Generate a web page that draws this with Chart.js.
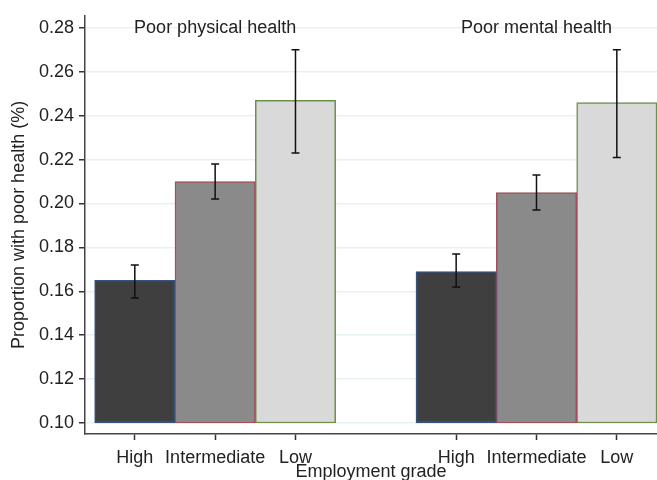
<!DOCTYPE html>
<html>
<head>
<meta charset="utf-8">
<script src="https://cdn.jsdelivr.net/npm/chart.js@4"></script>
<style>
  body { margin: 0; background: #fff; }
  #wrap { width: 657px; height: 480px; }
</style>
</head>
<body>
<div id="wrap"><canvas id="chart"></canvas></div>
<script>
// groups and grades
const groupTitles = ['Poor physical health', 'Poor mental health'];
const grades = ['High', 'Intermediate', 'Low'];
const xPos = [1, 2, 3, 5, 6, 7]; // slot of each bar, a gap between groups
const groupCenters = [2, 6];

// proportions
const physical = [0.165, 0.210, 0.247];
const physicalLo = [0.157, 0.202, 0.223];
const physicalHi = [0.172, 0.218, 0.270];
const mental = [0.169, 0.205, 0.246];
const mentalLo = [0.162, 0.197, 0.221];
const mentalHi = [0.177, 0.213, 0.270];

const yTicks = [0.10, 0.12, 0.14, 0.16, 0.18, 0.20, 0.22, 0.24, 0.26, 0.28];
const barBase = 0.10;

const fills = ['#3f3f3f', '#8a8a8a', '#d9d9d9'];
const borders = ['#34527a', '#a0505a', '#6f8f4c'];
const FONT = '"Liberation Sans", Arial, sans-serif';

const datasets = grades.map((g, i) => ({
  label: g,
  data: [
    { x: xPos[i], y: [barBase, physical[i]], lo: physicalLo[i], hi: physicalHi[i] },
    { x: xPos[i + 3], y: [barBase, mental[i]], lo: mentalLo[i], hi: mentalHi[i] }
  ],
  backgroundColor: fills[i],
  borderColor: borders[i],
  borderWidth: 1.5,
  borderSkipped: false,
  barPercentage: 1,
  categoryPercentage: 1
}));

// error bars with caps
const errorBars = {
  id: 'errorBars',
  afterDatasetsDraw(chart) {
    const { ctx, scales: { x, y } } = chart;
    ctx.save();
    ctx.strokeStyle = '#111';
    ctx.lineWidth = 1.5;
    chart.data.datasets.forEach(ds => {
      ds.data.forEach(d => {
        const px = x.getPixelForValue(d.x);
        const top = y.getPixelForValue(d.hi);
        const bot = y.getPixelForValue(d.lo);
        ctx.beginPath();
        ctx.moveTo(px, top); ctx.lineTo(px, bot);
        ctx.moveTo(px - 4, top); ctx.lineTo(px + 4, top);
        ctx.moveTo(px - 4, bot); ctx.lineTo(px + 4, bot);
        ctx.stroke();
      });
    });
    ctx.restore();
  }
};

// group headings inside the plot
const groupLabels = {
  id: 'groupLabels',
  afterDatasetsDraw(chart) {
    const { ctx, scales: { x, y } } = chart;
    ctx.save();
    ctx.font = '18px ' + FONT;
    ctx.fillStyle = '#222';
    ctx.textAlign = 'center';
    ctx.textBaseline = 'middle';
    groupTitles.forEach((t, i) => {
      ctx.fillText(t, x.getPixelForValue(groupCenters[i]), y.getPixelForValue(0.28));
    });
    ctx.restore();
  }
};

new Chart(document.getElementById('chart'), {
  type: 'bar',
  data: { datasets },
  options: {
    responsive: true,
    maintainAspectRatio: false,
    animation: false,
    grouped: false,
    layout: { padding: { top: 14, right: 0, left: 0, bottom: 0 } },
    plugins: { legend: { display: false }, tooltip: { enabled: false } },
    scales: {
      x: {
        type: 'linear',
        offset: false,
        min: 0.38,
        max: 7.5,
        afterBuildTicks(scale) { scale.ticks = xPos.map(v => ({ value: v })); },
        afterFit(scale) { scale.height = 46; },
        ticks: {
          autoSkip: false,
          maxRotation: 0,
          padding: 7,
          color: '#222',
          font: { family: FONT, size: 18 },
          callback: v => grades[xPos.indexOf(v) % 3]
        },
        grid: { offset: false, drawOnChartArea: false, tickLength: 6, tickColor: '#333', tickWidth: 1.5 },
        border: { color: '#444', width: 1.5 },
        title: {
          display: true,
          text: 'Employment grade',
          color: '#222',
          font: { family: FONT, size: 18 },
          padding: { top: 0, bottom: -3 }
        }
      },
      y: {
        min: 0.095,
        max: 0.2855,
        afterBuildTicks(scale) { scale.ticks = yTicks.map(v => ({ value: v })); },
        afterFit(scale) { scale.width = 85; },
        ticks: {
          padding: 5,
          color: '#222',
          font: { family: FONT, size: 18 },
          callback: v => v.toFixed(2)
        },
        grid: { color: '#e8f1f3', lineWidth: 1.5, tickLength: 6, tickColor: '#333', tickWidth: 1.5 },
        border: { color: '#444', width: 1.5 },
        title: {
          display: true,
          text: 'Proportion with poor health (%)',
          color: '#222',
          font: { family: FONT, size: 18 },
          padding: { top: 8, bottom: 0 }
        }
      }
    }
  },
  plugins: [errorBars, groupLabels]
});
</script>
</body>
</html>
